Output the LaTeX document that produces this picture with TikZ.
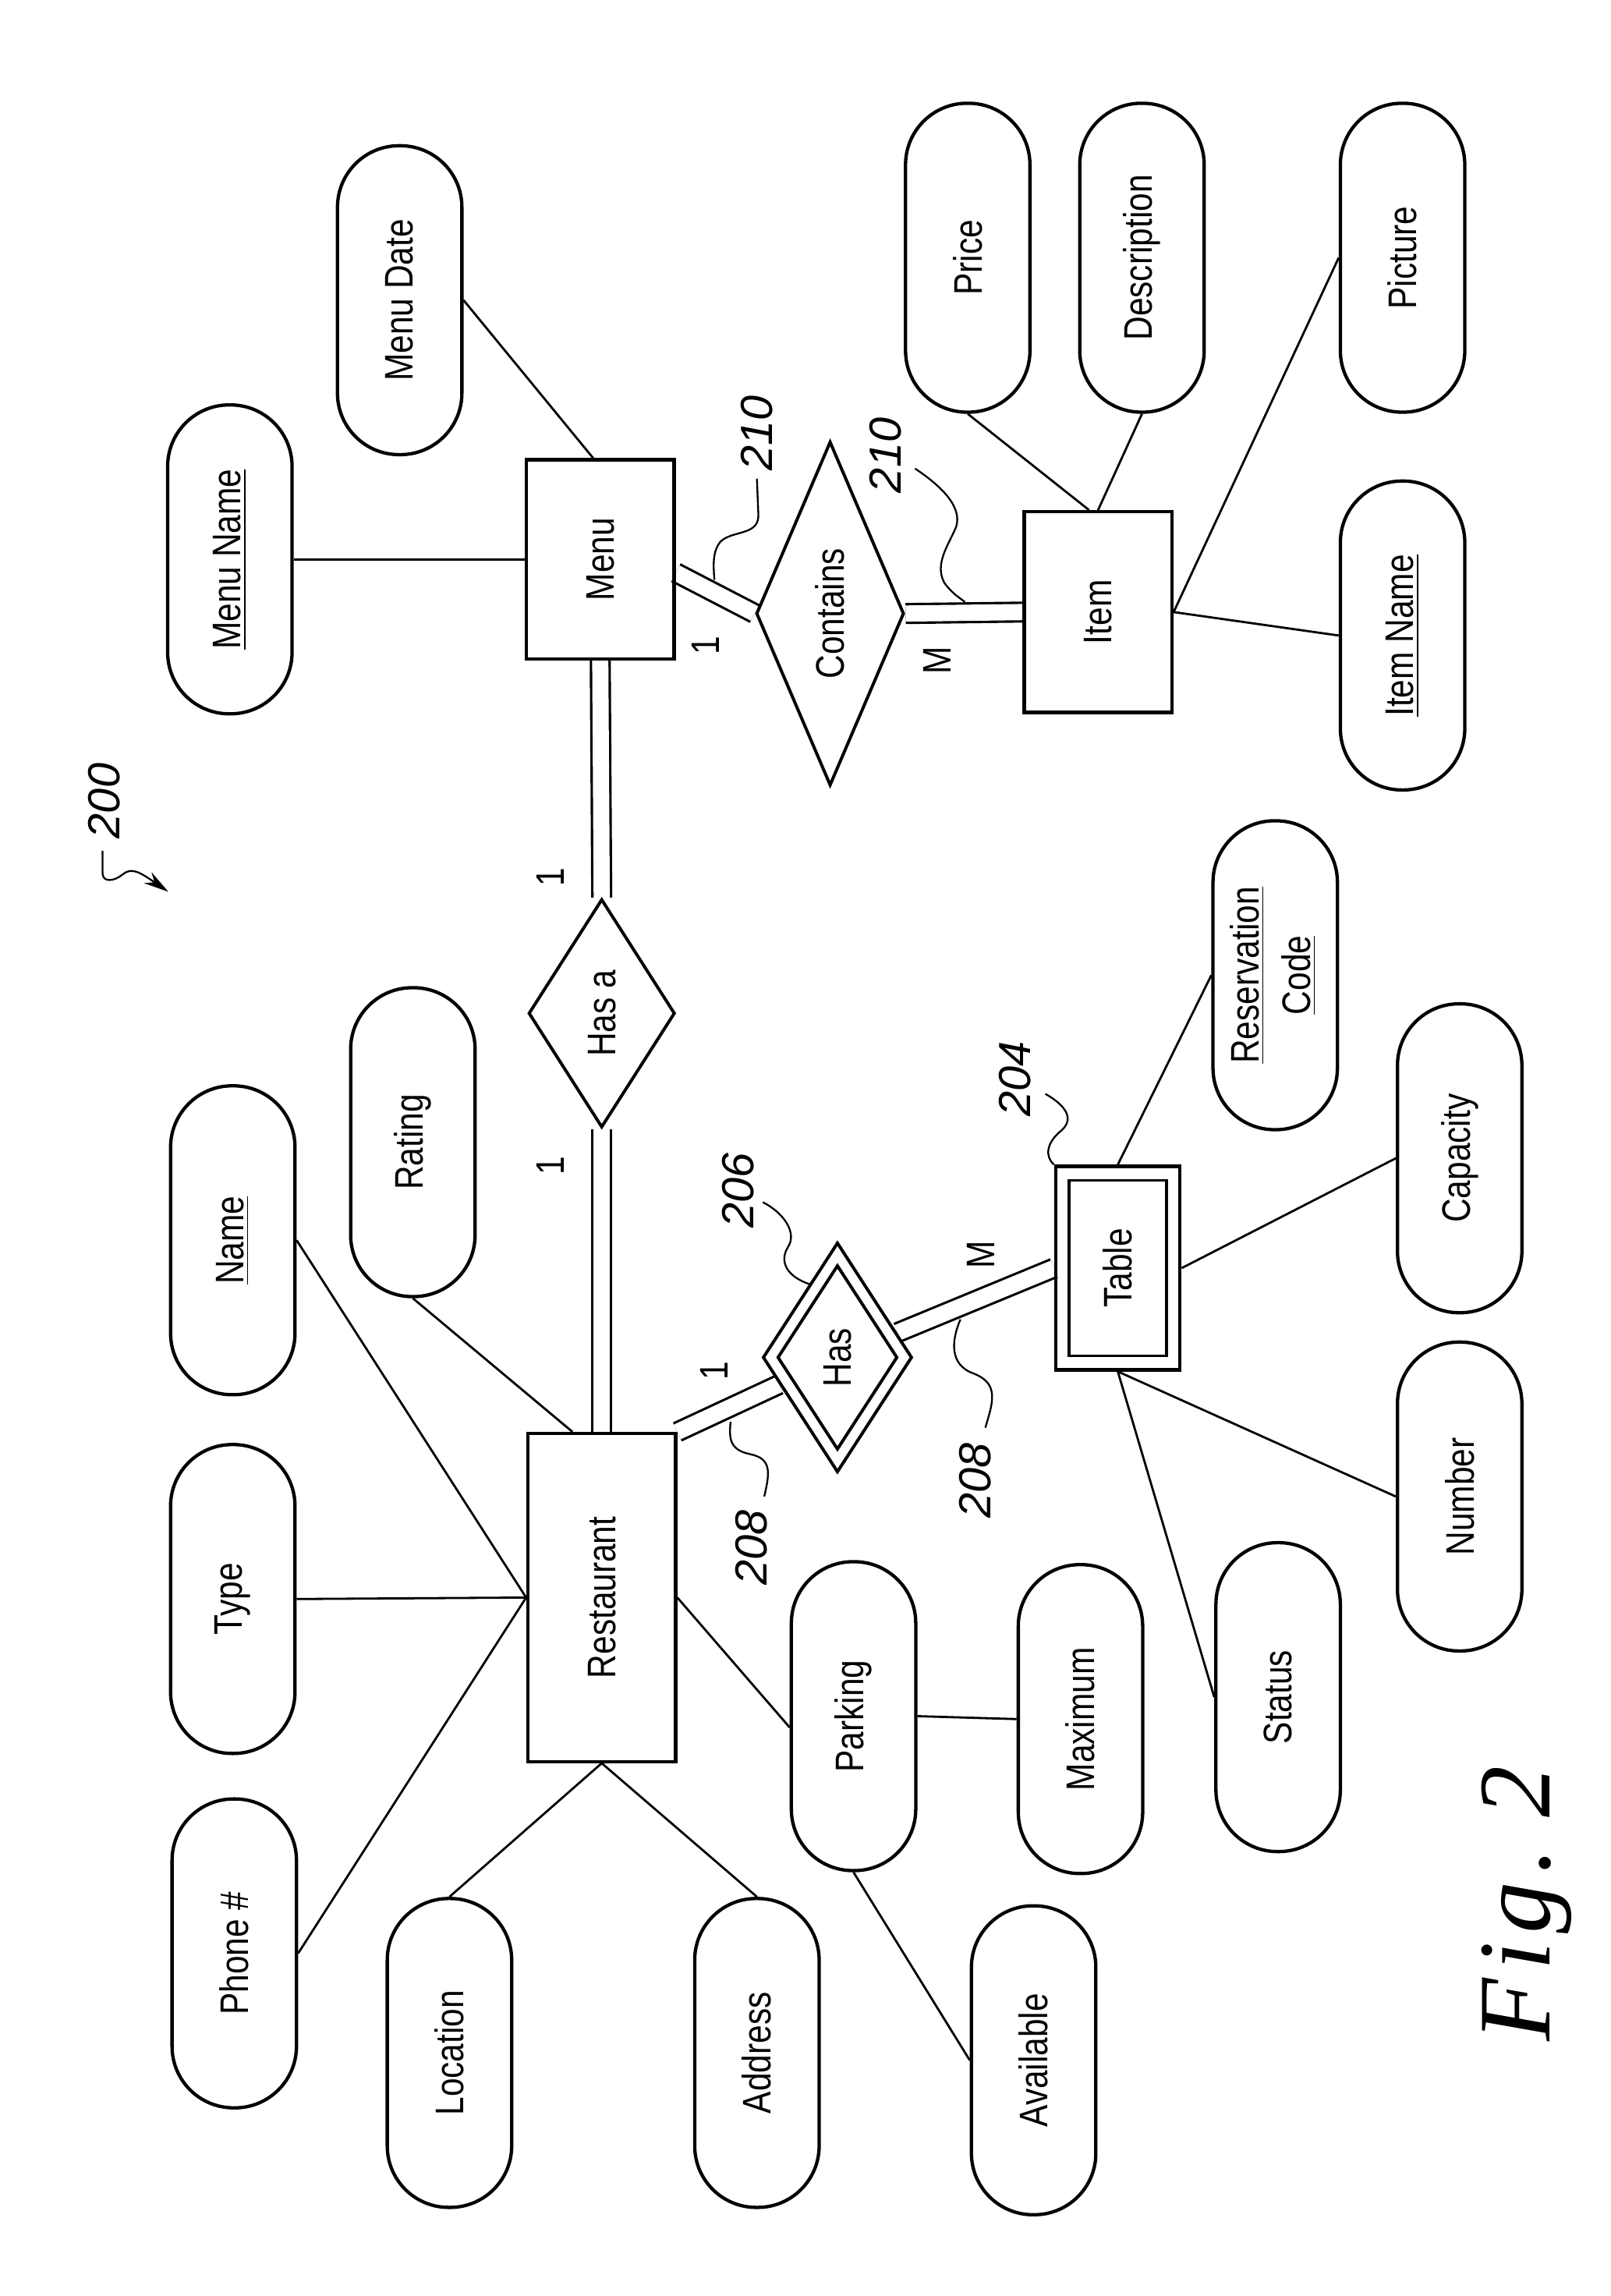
\documentclass[tikz,border=0pt]{standalone}
\usepackage{fontspec}
\usepackage{graphicx}
\setmainfont{Liberation Sans}
\newfontfamily\attrfont[FakeStretch=0.83]{Liberation Sans}
\newfontfamily\numfont{Liberation Sans}
\newfontfamily\figfont[LetterSpace=8]{Liberation Serif}
\usetikzlibrary{shapes.geometric,arrows.meta,calc}
\pgfdeclarelayer{bg}
\pgfsetlayers{bg,main}
\newcommand{\vtext}[1]{\rotatebox{90}{#1}}
\begin{document}
\begin{tikzpicture}[x=0.02cm,y=-0.02cm,
  every node/.style={font=\attrfont\fontsize{15.5}{18}\selectfont},
  attr/.style={draw, line width=1.3pt, rounded corners=0.84cm, minimum width=1.7cm, minimum height=4.22cm, inner sep=0pt},
  ent/.style={draw, line width=1.3pt, minimum width=2.02cm, minimum height=2.72cm, inner sep=0pt},
  rel/.style={diamond, draw, line width=1.2pt, inner sep=0pt},
  conn/.style={line width=0.85pt},
  dbl/.style={double, double distance=6.3pt, line width=0.95pt},
  card/.style={inner sep=0pt},
  refnum/.style={inner sep=0pt, font=\numfont\itshape\fontsize{17.5}{20}\selectfont},
  leader/.style={line width=0.7pt}]
\useasboundingbox (0,0) rectangle (1100,1568);

% entities
\node[ent, minimum height=4.48cm] (rest) at (411,1091) {\vtext{Restaurant}};
\node[ent] (menu) at (410,382) {\vtext{Menu}};
\node[ent, minimum height=2.74cm] (item) at (750,418) {\vtext{Item}};
\node[draw, line width=1.3pt, minimum width=1.7cm, minimum height=2.78cm, inner sep=0pt] (table) at (763.5,866) {};
\node[draw, line width=1pt, minimum width=1.33cm, minimum height=2.4cm, inner sep=0pt] (tablein) at (table) {\vtext{Table}};

% relationships
\node[rel, minimum width=2cm, minimum height=3.12cm, shape aspect=0.64] (hasa) at (411,692) {\vtext{Has a}};
\node[rel, minimum width=2.02cm, minimum height=4.7cm, shape aspect=0.43] (contains) at (567,419) {\vtext{Contains}};
\node[rel, minimum width=2.04cm, minimum height=3.14cm, shape aspect=0.65] (has) at (572,927) {};
\node[rel, minimum width=1.64cm, minimum height=2.52cm, shape aspect=0.65] (hasin) at (has) {\vtext{Has}};

% attributes
\node[attr] (phone) at (160,1334) {\vtext{Phone \#}};
\node[attr] (type) at (159,1092) {\vtext{Type}};
\node[attr] (name) at (159,847) {\vtext{\underline{Name}}};
\node[attr] (rating) at (282,780) {\vtext{Rating}};
\node[attr] (mname) at (157,382) {\vtext{\underline{Menu Name}}};
\node[attr] (mdate) at (273,205) {\vtext{Menu Date}};
\node[attr] (location) at (307,1402) {\vtext{Location}};
\node[attr] (address) at (517,1402) {\vtext{Address}};
\node[attr] (available) at (706,1407) {\vtext{Available}};
\node[attr] (parking) at (583,1172) {\vtext{Parking}};
\node[attr] (maximum) at (738,1174) {\vtext{Maximum}};
\node[attr] (status) at (873,1159) {\vtext{Status}};
\node[attr] (number) at (997,1022) {\vtext{Number}};
\node[attr] (capacity) at (997,791) {\vtext{Capacity}};
\node[attr] (rescode) at (871,666) {\vtext{\begin{tabular}{@{}c@{}}\underline{Reservation}\\[2pt]\underline{Code}\end{tabular}}};
\node[attr] (price) at (661,176) {\vtext{Price}};
\node[attr] (descr) at (780,176) {\vtext{Description}};
\node[attr] (picture) at (958,176) {\vtext{Picture}};
\node[attr] (iname) at (958,434) {\vtext{\underline{Item Name}}};

% connectors
\begin{pgfonlayer}{bg}
\draw[conn] (phone.east) -- (rest.west);
\draw[conn] (type.east) -- (rest.west);
\draw[conn] (name.east) -- (rest.west);
\draw[conn] (rating.south) -- (rest.100);
\draw[conn] (location.north) -- (rest.south);
\draw[conn] (address.north) -- (rest.south);
\draw[conn] (rest.east) -- (parking.190);
\draw[conn] (parking.east) -- (maximum.west);
\draw[conn] (parking.south) -- (available.west);
\draw[conn] (mname.east) -- (menu.west);
\draw[conn] (mdate.east) -- (menu.94);
\draw[conn] (price.south) -- (item.95);
\draw[conn] (descr.south) -- (item.north);
\draw[conn] (picture.west) -- (item.east);
\draw[conn] (iname.west) -- (item.east);
\draw[conn] (table.north) -- (rescode.west);
\draw[conn] (table.east) -- (capacity.west);
\draw[conn] (table.south) -- (number.west);
\draw[conn] (table.south) -- (status.west);
\draw[dbl] (rest.north) -- (hasa.south);
\draw[dbl] (hasa.north) -- (menu.south);
\draw[dbl] (menu.-10) -- (contains.west);
\draw[dbl] (contains.east) -- (item.west);
\draw[dbl] (rest.north east) -- (has);
\draw[dbl] (has) -- (table.west);
\end{pgfonlayer}

% cardinalities
\node[card] (c1) at (376,599) {\vtext{1}};
\node[card] (c2) at (376,796) {\vtext{1}};
\node[card] (c3) at (482,441) {\vtext{1}};
\node[card] (c4) at (640,451) {\vtext{M}};
\node[card] (c5) at (488,936) {\vtext{1}};
\node[card] (c6) at (670,857) {\vtext{M}};

% reference numerals
\node[refnum] (r200) at (71,547) {\vtext{200}};
\node[refnum] (r210a) at (517,296) {\vtext{210}};
\node[refnum] (r210b) at (605,311) {\vtext{210}};
\node[refnum] (r206) at (504,813) {\vtext{206}};
\node[refnum] (r208a) at (513,1057) {\vtext{208}};
\node[refnum] (r208b) at (666,1011) {\vtext{208}};
\node[refnum] (r204) at (693,737) {\vtext{204}};

% leader lines
\coordinate (a200) at (70,581);
\coordinate (t200) at (115,609);
\draw[leader, -{Stealth[length=0.34cm, width=0.18cm]}] (a200) -- (70,596) .. controls (70,603) and (78,602) .. (84,597) .. controls (90,592) and (96,596) .. (t200);
\coordinate (a210a) at (517,327);
\coordinate (e210a) at (488,396);
\draw[leader] (a210a) -- (518,352) .. controls (518,366) and (500,362) .. (492,370) .. controls (487,376) and (487,385) .. (e210a);
\coordinate (a210b) at (625,320);
\coordinate (e210b) at (659,411);
\draw[leader] (a210b) .. controls (640,330) and (658,345) .. (653,360) .. controls (648,372) and (638,385) .. (645,398) .. controls (650,405) and (655,408) .. (e210b);
\coordinate (a206) at (521,821);
\coordinate (e206) at (553,877);
\draw[leader] (a206) .. controls (535,828) and (545,842) .. (538,852) .. controls (532,862) and (538,872) .. (e206);
\coordinate (a208a) at (522,1022);
\coordinate (e208a) at (499,971);
\draw[leader] (a208a) .. controls (526,1005) and (527,996) .. (512,993) .. controls (498,990) and (498,982) .. (e208a);
\coordinate (a208b) at (673,975);
\coordinate (e208b) at (656,901);
\draw[leader] (a208b) .. controls (678,958) and (683,945) .. (665,938) .. controls (648,932) and (650,915) .. (e208b);
\coordinate (a204) at (714,747);
\draw[leader] (a204) .. controls (728,755) and (734,764) .. (725,772) .. controls (714,781) and (714,790) .. (table.north west);

% figure caption
\node[inner sep=0pt, font=\figfont\itshape\fontsize{40}{44}\selectfont] (fig) at (1043,1300) {\rotatebox{90}{Fig.\hspace{0.3em}2}};
\end{tikzpicture}
\end{document}
